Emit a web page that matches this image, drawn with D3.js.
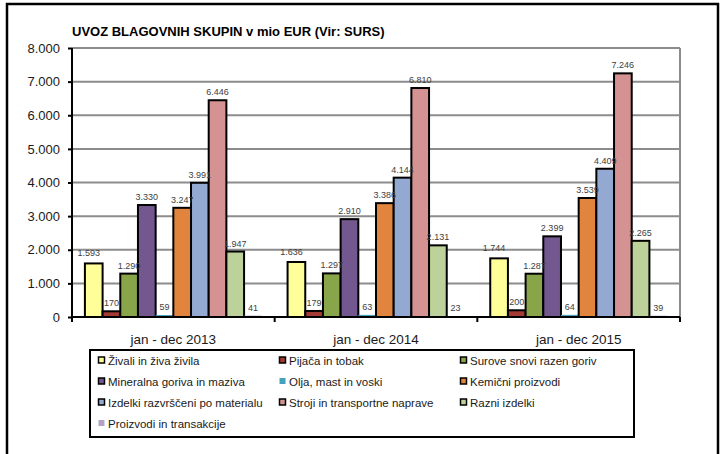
<!DOCTYPE html>
<html>
<head>
<meta charset="utf-8">
<style>
  body { margin: 0; background: #fff; }
  svg { font-family: "Liberation Sans", Arial, sans-serif; }
</style>
</head>
<body>
<div id="chart"></div>
<script src="https://d3js.org/d3.v7.min.js"></script>
<script>
// data
var categories = ["jan - dec 2013", "jan - dec 2014", "jan - dec 2015"];
var seriesNames = ["Živali in živa živila", "Pijača in tobak", "Surove snovi razen goriv",
  "Mineralna goriva in maziva", "Olja, mast in voski", "Kemični proizvodi",
  "Izdelki razvrščeni po materialu", "Stroji in transportne naprave", "Razni izdelki",
  "Proizvodi in transakcije"];
var seriesColors = ["#ffff99", "#a33a34", "#88a54a", "#72588f", "#44a3bb",
  "#e0843e", "#94a9d1", "#d49392", "#bdd29b", "#b2a2c7"];
var noBorder = ["Olja, mast in voski", "Proizvodi in transakcije"];
var values2013 = [1593, 170, 1290, 3330, 59, 3247, 3991, 6446, 1947, 41];
var values2014 = [1636, 179, 1297, 2910, 63, 3386, 4144, 6810, 2131, 23];
var values2015 = [1744, 200, 1287, 2399, 64, 3539, 4409, 7246, 2265, 39];
var yTicks = [0, 1000, 2000, 3000, 4000, 5000, 6000, 7000, 8000];
var title = "UVOZ BLAGOVNIH SKUPIN v mio EUR (Vir: SURS)";

var allValues = [values2013, values2014, values2015];

var W = 724, H = 454;
var plot = {left: 72, right: 680, top: 48, bottom: 317};

var sl = d3.formatLocale({decimal: ",", thousands: ".", grouping: [3], currency: ["", "€"]});
var fmt = sl.format(",d");

var svg = d3.select("#chart").append("svg")
  .attr("width", W).attr("height", H);

// outer frame
svg.append("path")
  .attr("d", "M7,454 L7,4 L718,4 L718,454")
  .attr("fill", "none").attr("stroke", "#000").attr("stroke-width", 2.5);

svg.append("text")
  .attr("x", 72).attr("y", 36)
  .attr("font-size", 13).attr("font-weight", "bold")
  .text(title);

var x0 = d3.scaleBand().domain(categories).range([plot.left, plot.right]);
var x1 = d3.scaleBand().domain(seriesNames).range([0, x0.bandwidth()])
  .paddingInner(0).paddingOuter(0.73);
var y = d3.scaleLinear().domain([0, 8000]).range([plot.bottom, plot.top]);
var color = d3.scaleOrdinal().domain(seriesNames).range(seriesColors);

// gridlines
svg.append("g").selectAll("line")
  .data(yTicks.filter(function(d) { return d > 0; }))
  .enter().append("line")
    .attr("x1", plot.left).attr("x2", plot.right)
    .attr("y1", function(d) { return y(d); }).attr("y2", function(d) { return y(d); })
    .attr("stroke", "#8c8c8c").attr("stroke-width", 2);
svg.append("line")
  .attr("x1", plot.right).attr("x2", plot.right)
  .attr("y1", plot.top).attr("y2", plot.bottom)
  .attr("stroke", "#8c8c8c").attr("stroke-width", 2);

// bars
var groups = svg.append("g").selectAll("g")
  .data(categories)
  .enter().append("g")
    .attr("transform", function(d) { return "translate(" + x0(d) + ",0)"; });

groups.selectAll("rect")
  .data(function(d, i) {
    return seriesNames.map(function(s, j) { return {key: s, value: allValues[i][j]}; });
  })
  .enter().append("rect")
    .attr("x", function(d) { return x1(d.key); })
    .attr("y", function(d) { return y(d.value); })
    .attr("width", x1.bandwidth())
    .attr("height", function(d) { return y(0) - y(d.value); })
    .attr("fill", function(d) { return color(d.key); })
    .attr("stroke", function(d) { return noBorder.indexOf(d.key) >= 0 ? "none" : "#000"; })
    .attr("stroke-width", 2);

groups.selectAll("text")
  .data(function(d, i) {
    return seriesNames.map(function(s, j) { return {key: s, value: allValues[i][j]}; });
  })
  .enter().append("text")
    .attr("x", function(d, j) { return x1(d.key) + x1.bandwidth() / 2 + (j == 0 ? -5 : 0); })
    .attr("y", function(d, j) { return y(d.value) - (j == 0 ? 7 : 5); })
    .attr("text-anchor", "middle")
    .attr("font-size", 9).attr("fill", "#404040")
    .text(function(d) { return fmt(d.value); });

// y axis
var yAxis = svg.append("g")
  .attr("transform", "translate(" + plot.left + ",0)")
  .call(d3.axisLeft(y).tickValues(yTicks).tickFormat(fmt).tickSize(4).tickPadding(8).tickSizeOuter(0));
yAxis.select(".domain").remove();
yAxis.selectAll("line").attr("stroke", "#000").attr("stroke-width", 2);
yAxis.selectAll("text").attr("font-size", 13).attr("fill", "#1a1a1a")
  .attr("font-family", "Liberation Sans, Arial, sans-serif");
svg.append("line")
  .attr("x1", plot.left).attr("x2", plot.left)
  .attr("y1", plot.top).attr("y2", plot.bottom + 5)
  .attr("stroke", "#000").attr("stroke-width", 2);

// x axis
var xAxis = svg.append("g")
  .attr("transform", "translate(0," + plot.bottom + ")")
  .call(d3.axisBottom(x0).tickSize(0).tickPadding(17));
xAxis.select(".domain").remove();
xAxis.selectAll("text").attr("font-size", 13.5).attr("fill", "#1a1a1a")
  .attr("font-family", "Liberation Sans, Arial, sans-serif");
svg.append("line")
  .attr("x1", plot.left).attr("x2", plot.right)
  .attr("y1", plot.bottom).attr("y2", plot.bottom)
  .attr("stroke", "#000").attr("stroke-width", 2);
svg.append("g").selectAll("line")
  .data(categories.slice(1).concat(["end"]))
  .enter().append("line")
    .attr("x1", function(d) { return d == "end" ? plot.right : x0(d); })
    .attr("x2", function(d) { return d == "end" ? plot.right : x0(d); })
    .attr("y1", plot.bottom).attr("y2", plot.bottom + 5)
    .attr("stroke", "#000").attr("stroke-width", 2);

// legend
var legend = svg.append("g");
legend.append("rect")
  .attr("x", 90).attr("y", 350).attr("width", 544).attr("height", 87)
  .attr("fill", "#fff").attr("stroke", "#000").attr("stroke-width", 2);

var items = legend.selectAll("g.item")
  .data(seriesNames)
  .enter().append("g")
    .attr("class", "item")
    .attr("transform", function(d, i) {
      return "translate(" + (98 + (i % 3) * 181) + "," + (365 + Math.floor(i / 3) * 21) + ")";
    });
items.append("rect")
  .attr("x", 0.5).attr("y", -8).attr("width", 6).attr("height", 6)
  .attr("fill", function(d) { return color(d); })
  .attr("stroke", function(d) { return noBorder.indexOf(d) >= 0 ? "none" : "#000"; })
  .attr("stroke-width", 1.5);
items.append("text")
  .attr("x", 10).attr("y", 0)
  .attr("font-size", 11.5).attr("fill", "#1a1a1a")
  .text(function(d) { return d; });
</script>
</body>
</html>
